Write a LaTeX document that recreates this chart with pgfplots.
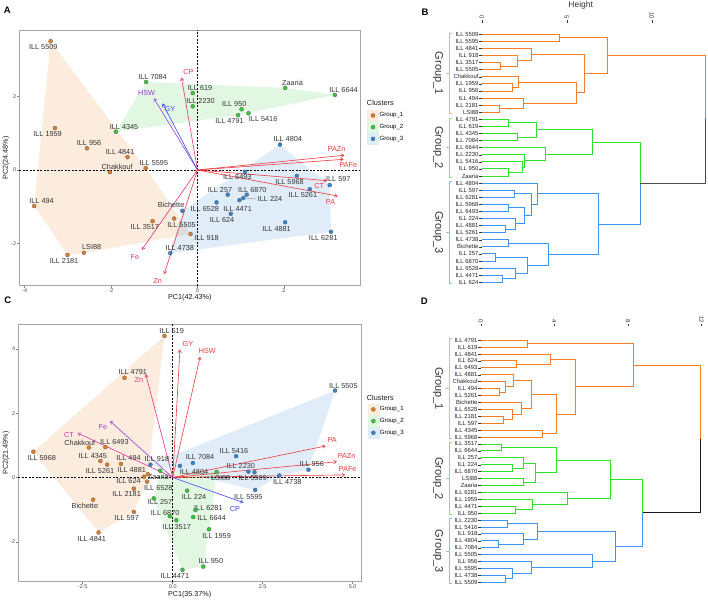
\documentclass[border=0pt]{standalone}
\usepackage{fontspec}
\setmainfont{Liberation Sans}
\usepackage{pgfplots}
\pgfplotsset{compat=1.18}
\usetikzlibrary{arrows.meta}

\newcommand\fsz[1]{\fontsize{#1}{#1}\selectfont}

% cluster colours
\definecolor{gA}{RGB}{230,126,34}
\definecolor{gB}{RGB}{51,204,51}
\definecolor{gC}{RGB}{45,135,215}
% dendrogram branches
\definecolor{dA}{RGB}{245,125,35}
\definecolor{dB}{RGB}{45,225,45}
\definecolor{dC}{RGB}{60,150,240}
\definecolor{bA}{RGB}{248,180,125}
\definecolor{bB}{RGB}{125,230,125}
\definecolor{bC}{RGB}{140,192,240}
% variable arrows
\definecolor{vred}{RGB}{240,55,60}
\definecolor{vpink}{RGB}{228,50,125}
\definecolor{vmag}{RGB}{225,48,160}
\definecolor{vpurp}{RGB}{155,60,225}
\definecolor{vblue}{RGB}{60,70,240}
\definecolor{txt}{RGB}{51,51,51}

\newcommand\lab[3]{\node[font=\fsz{7.3}, text=txt, inner sep=0pt] at (axis cs:#1,#2) {#3};}
\newcommand\vlab[4]{\node[font=\fsz{7.3}, text=#1, inner sep=0pt] at (axis cs:#2,#3) {#4};}
\newcommand\arr[3]{\addplot[#1, line width=0.6pt, -{Straight Barb[length=2.6pt,width=3.4pt]}, forget plot] coordinates {(0,0)(#2,#3)};}
\newcommand\mg[6]{\addplot[#1, forget plot] coordinates {(#2,#3)(#4,#3)(#4,#5)(#6,#5)};}

\pgfplotsset{
  pca/.style={scale only axis, clip=false,
    axis line style={black!35, line width=0.7pt},
    tick align=outside, major tick length=2pt,
    tick style={black!50, line width=0.5pt},
    xtick pos=left, ytick pos=left,
    tick label style={font=\fsz{5.5}, text=black!70},
    xticklabel style={inner sep=1pt}, yticklabel style={inner sep=1pt},
    label style={font=\fsz{7.2}, text=black!90},
    legend cell align=left},
  hull/.style={draw=none, fill=#1, fill opacity=0.15, forget plot},
  zline/.style={black, line width=0.5pt, dash pattern=on 2pt off 1.5pt, forget plot},
  p1/.style={only marks, mark=*, mark size=2pt, mark options={fill=gA, draw=black!65, line width=0.3pt},
    legend image code/.code={\fill[gA!15] (0pt,-5.65pt) rectangle (11.3pt,5.65pt);
      \filldraw[fill=gA, draw=black!65, line width=0.3pt] (5.65pt,0pt) circle (2pt);}},
  p2/.style={only marks, mark=*, mark size=2pt, mark options={fill=gB, draw=black!65, line width=0.3pt},
    legend image code/.code={\fill[gB!15] (0pt,-5.65pt) rectangle (11.3pt,5.65pt);
      \filldraw[fill=gB, draw=black!65, line width=0.3pt] (5.65pt,0pt) circle (2pt);}},
  p3/.style={only marks, mark=*, mark size=2pt, mark options={fill=gC, draw=black!65, line width=0.3pt},
    legend image code/.code={\fill[gC!15] (0pt,-5.65pt) rectangle (11.3pt,5.65pt);
      \filldraw[fill=gC, draw=black!65, line width=0.3pt] (5.65pt,0pt) circle (2pt);}},
  dend/.style={scale only axis, clip=false, y dir=reverse, ymin=0.5, ymax=36.5, xmin=0,
    axis x line=none, axis y line*=left, y axis line style={draw=none},
    ytick={1,...,36}, tick align=outside, major tick length=2.4pt,
    ytick style={black!80, line width=0.4pt},
    yticklabel style={font=\fsz{5.9}, text=black!85, inner sep=0.6pt}},
  oA/.style={dA, line width=0.85pt},
  oB/.style={dB, line width=0.85pt},
  oC/.style={dC, line width=0.85pt},
  oK/.style={black!75, line width=0.85pt},
}

\begin{document}
\begin{tikzpicture}
\useasboundingbox (0pt,0pt) rectangle (708pt,-601pt);

% ---------------- A: PCA biplot ----------------
\begin{axis}[pca, at={(19.3pt,-285.7pt)}, anchor=south west,
  width=341pt, height=255.7pt,
  xmin=-4.125, xmax=3.769, ymin=-3.144, ymax=3.804,
  xtick={-4,-2,0,2}, xticklabels={-4,-2,0,2},
  ytick={-2,0,2}, yticklabels={-2,0,2},
  xlabel={PC1(42.43\%)}, ylabel={PC2(24.48\%)},
  xlabel style={at={(axis description cs:0.5,-0.048)}, anchor=center},
  ylabel style={at={(axis description cs:-0.039,0.5)}, anchor=center},
  legend style={at={(1.0196,0.6895)}, anchor=north west, draw=none, fill=none,
    font=\fsz{6.1}, inner sep=0pt, row sep=0pt, nodes={inner sep=0.7pt}}]
\addplot[hull=gA] coordinates {(-3.40,3.50)(-1.20,0.05)(-0.16,-1.74)(-2.63,-2.25)(-3.01,-2.31)(-3.78,-0.98)};
\addplot[hull=gB] coordinates {(-1.89,1.04)(-1.19,2.39)(2.03,2.23)(3.18,2.04)(0.94,1.49)};
\addplot[hull=gC] coordinates {(1.91,0.69)(3.06,-0.41)(3.09,-1.68)(-0.63,-2.26)(-0.35,-1.11)};
\addplot[zline] coordinates {(0,-3.144)(0,3.804)};
\addplot[zline] coordinates {(-4.125,0)(3.769,0)};
\arr{vpink}{-0.37}{2.51}
\arr{vpurp}{-1.01}{1.95}
\arr{vblue}{-0.81}{1.81}
\arr{vred}{3.40}{0.40}
\arr{vred}{3.38}{0.29}
\arr{vred}{3.00}{-0.29}
\arr{vred}{3.25}{-0.71}
\arr{vpink}{-1.29}{-2.17}
\arr{vred}{-0.77}{-2.83}
\addplot[p1] coordinates {(-3.40,3.50)(-1.20,0.05)(-1.62,0.35)(-0.16,-1.74)(-1.04,-1.39)(-0.54,-1.32)
  (-2.03,-0.06)(-3.30,1.14)(-2.56,0.59)(-3.78,-0.98)(-3.01,-2.31)(-2.63,-2.25)};
\addlegendentry{Group\_1}
\addplot[p2] coordinates {(0.94,1.49)(-0.11,2.09)(-1.89,1.04)(-1.19,2.39)(3.18,2.04)(-0.11,1.73)
  (1.18,1.54)(1.02,1.65)(2.03,2.23)};
\addlegendentry{Group\_2}
\addplot[p3] coordinates {(1.91,0.69)(3.06,-0.41)(3.09,-1.68)(2.30,-0.16)(1.10,-0.05)(1.06,-0.76)
  (2.03,-1.42)(2.60,-0.52)(-0.63,-2.26)(-0.35,-1.11)(0.70,-0.67)(1.14,-0.67)(0.44,-0.88)(0.97,-0.82)(0.77,-1.19)};
\addlegendentry{Group\_3}
\draw[black!60, line width=0.3pt] (axis cs:1.08,-0.76) -- (axis cs:1.36,-0.79);
\lab{-3.57}{3.33}{ILL 5509}
\lab{-1.04}{2.53}{ILL 7084}
\lab{0.06}{2.24}{ILL 619}
\lab{0.07}{1.88}{ILL 2230}
\lab{-3.47}{0.97}{ILL 1959}
\lab{-1.70}{1.18}{ILL 4345}
\lab{-2.51}{0.74}{ILL 956}
\lab{-1.79}{0.48}{ILL 4841}
\lab{-1.86}{0.09}{Chakkouf}
\lab{-1.01}{0.18}{ILL 5595}
\lab{-3.61}{-0.83}{ILL 494}
\lab{-0.61}{-0.96}{Bichette}
\lab{-1.22}{-1.56}{ILL 3517}
\lab{-0.37}{-1.49}{ILL 5505}
\lab{0.21}{-1.85}{ILL 918}
\lab{-0.41}{-2.13}{ILL 4738}
\lab{-3.09}{-2.46}{ILL 2181}
\lab{-2.45}{-2.10}{LSI88}
\lab{2.20}{2.38}{Zaaria}
\lab{3.38}{2.18}{ILL 6644}
\lab{0.85}{1.80}{ILL 950}
\lab{0.74}{1.34}{ILL 4791}
\lab{1.52}{1.39}{ILL 5416}
\lab{2.09}{0.84}{ILL 4804}
\lab{0.92}{-0.20}{ILL 6493}
\lab{2.13}{-0.33}{ILL 5968}
\lab{3.26}{-0.25}{ILL 597}
\lab{2.44}{-0.68}{ILL 5261}
\lab{0.52}{-0.53}{ILL 257}
\lab{1.27}{-0.53}{ILL 6870}
\lab{1.68}{-0.80}{ILL 224}
\lab{0.93}{-1.06}{ILL 4471}
\lab{0.17}{-1.06}{ILL 6528}
\lab{0.57}{-1.36}{ILL 624}
\lab{1.83}{-1.59}{ILL 4881}
\lab{2.91}{-1.84}{ILL 6281}
\vlab{vpink}{-0.21}{2.67}{CP}
\vlab{vpurp}{-1.18}{2.10}{HSW}
\vlab{vblue}{-0.64}{1.65}{GY}
\vlab{vred}{3.22}{0.56}{PAZn}
\vlab{vred}{3.49}{0.14}{PAFe}
\vlab{vred}{2.82}{-0.43}{CT}
\vlab{vred}{3.08}{-0.87}{PA}
\vlab{vpink}{-1.45}{-2.37}{Fe}
\vlab{vred}{-0.92}{-3.01}{Zn}
\node[anchor=west, font=\fsz{7.3}, text=black!90, inner sep=0pt] at (axis description cs:1.019,0.7145) {Clusters};
\end{axis}

% ---------------- C: PCA biplot ----------------
\begin{axis}[pca, at={(18.3pt,-581.7pt)}, anchor=south west,
  width=342.7pt, height=257.4pt,
  xmin=-4.29, xmax=5.23, ymin=-3.24, ymax=4.76,
  xtick={-2.5,0,2.5,5}, xticklabels={-2.5,0.0,2.5,5.0},
  ytick={-2,0,2,4}, yticklabels={-2,0,2,4},
  xlabel={PC1(35.37\%)}, ylabel={PC2(21.49\%)},
  xlabel style={at={(axis description cs:0.5,-0.052)}, anchor=center},
  ylabel style={at={(axis description cs:-0.036,0.5)}, anchor=center},
  legend style={at={(1.0184,0.6929)}, anchor=north west, draw=none, fill=none,
    font=\fsz{6.1}, inner sep=0pt, row sep=0pt, nodes={inner sep=0.7pt}}]
\addplot[hull=gA] coordinates {(-0.23,4.40)(-0.69,0.10)(-0.71,-0.13)(-1.08,-1.07)(-2.06,-1.71)(-3.87,0.80)};
\addplot[hull=gB] coordinates {(-0.35,0.21)(1.22,0.17)(1.01,-1.61)(0.85,-2.77)(0.27,-2.87)(-0.53,-0.65)};
\addplot[hull=gC] coordinates {(-0.62,0.40)(4.51,2.70)(3.77,0.24)(2.96,0.06)(2.29,-0.39)};
\addplot[zline] coordinates {(0,-3.24)(0,4.76)};
\addplot[zline] coordinates {(-4.29,0)(5.23,0)};
\arr{vred}{0.20}{3.98}
\arr{vred}{0.76}{3.75}
\arr{vpink}{-0.75}{3.21}
\arr{vpurp}{-1.74}{1.75}
\arr{vmag}{-2.64}{1.38}
\arr{vred}{4.25}{0.98}
\arr{vred}{4.56}{0.49}
\arr{vred}{4.79}{0.08}
\arr{vblue}{1.96}{-0.78}
\addplot[p1] coordinates {(-0.23,4.40)(-1.34,3.10)(-3.87,0.80)(-2.33,0.93)(-1.87,0.94)(-2.01,0.51)
  (-1.82,0.40)(-1.44,0.42)(-0.69,0.10)(-0.80,0.02)(-0.71,-0.13)(-1.08,-0.35)(-2.21,-0.69)(-1.08,-1.07)(-2.06,-1.71)};
\addlegendentry{Group\_1}
\addplot[p2] coordinates {(-0.35,0.21)(-0.53,-0.65)(-0.08,-1.20)(0.10,-1.33)(0.27,-2.87)(0.40,-0.41)
  (0.63,-1.01)(0.57,-1.23)(1.01,-1.61)(0.85,-2.77)(1.22,0.17)};
\addlegendentry{Group\_2}
\addplot[p3] coordinates {(-0.62,0.40)(4.51,2.70)(1.76,0.66)(0.56,0.45)(0.20,0.36)(2.10,0.18)
  (2.27,0.16)(2.96,0.06)(3.77,0.24)(2.29,-0.39)};
\addlegendentry{Group\_3}
\lab{-0.03}{4.56}{ILL 619}
\lab{-1.11}{3.27}{ILL 4791}
\lab{-2.58}{1.06}{Chakkouf}
\lab{-1.62}{1.09}{ILL 6493}
\lab{-3.64}{0.60}{ILL 5968}
\lab{-2.22}{0.68}{ILL 4345}
\lab{-1.23}{0.60}{ILL 494}
\lab{-0.44}{0.57}{ILL 918}
\lab{-2.02}{0.21}{ILL 5261}
\lab{-1.14}{0.23}{ILL 4881}
\lab{-0.40}{0.01}{Zaaria}
\lab{-1.23}{-0.10}{ILL 624}
\lab{-0.40}{-0.32}{ILL 6528}
\lab{-1.28}{-0.51}{ILL 2181}
\lab{-0.35}{-0.77}{ILL 257}
\lab{-2.44}{-0.89}{Bichette}
\lab{-0.21}{-1.09}{ILL 6870}
\lab{-1.28}{-1.27}{ILL 597}
\lab{0.11}{-1.53}{ILL 3517}
\lab{-2.25}{-1.91}{ILL 4841}
\lab{0.06}{-3.06}{ILL 4471}
\lab{0.76}{0.63}{ILL 7084}
\lab{1.70}{0.82}{ILL 5416}
\lab{0.59}{0.17}{ILL 4804}
\lab{1.89}{0.37}{ILL 2230}
\lab{1.33}{-0.01}{LSI88}
\lab{2.22}{-0.01}{ILL 5509}
\lab{3.18}{-0.15}{ILL 4738}
\lab{3.86}{0.42}{ILL 956}
\lab{2.10}{-0.60}{ILL 5595}
\lab{0.59}{-0.62}{ILL 224}
\lab{0.99}{-0.94}{ILL 6281}
\lab{1.08}{-1.25}{ILL 6644}
\lab{1.22}{-1.81}{ILL 1959}
\lab{1.06}{-2.59}{ILL 950}
\lab{4.74}{2.85}{ILL 5505}
\vlab{vred}{0.42}{4.15}{GY}
\vlab{vred}{0.96}{3.93}{HSW}
\vlab{vpink}{-0.94}{3.03}{Zn}
\vlab{vpurp}{-1.94}{1.58}{Fe}
\vlab{vmag}{-2.88}{1.31}{CT}
\vlab{vred}{4.43}{1.16}{PA}
\vlab{vred}{4.83}{0.67}{PAZn}
\vlab{vred}{4.86}{0.25}{PAFe}
\vlab{vblue}{1.73}{-0.98}{CP}
\node[anchor=west, font=\fsz{7.3}, text=black!90, inner sep=0pt] at (axis description cs:1.0166,0.7148) {Clusters};
\end{axis}

% ---------------- B: dendrogram ----------------
\begin{axis}[dend, at={(481.7pt,-285.8pt)}, anchor=south west,
  width=225.25pt, height=255.1pt, xmax=13.25,
  yticklabels={ILL 5509,ILL 5595,ILL 4841,ILL 918,ILL 3517,ILL 5505,Chakkouf,ILL 1959,ILL 956,ILL 494,ILL 2181,LSI88,
    ILL 4791,ILL 619,ILL 4345,ILL 7084,ILL 6644,ILL 2230,ILL 5416,ILL 950,Zaaria,
    ILL 4804,ILL 597,ILL 6281,ILL 5968,ILL 6493,ILL 224,ILL 4881,ILL 5261,ILL 4738,Bichette,ILL 257,ILL 6870,ILL 6528,ILL 4471,ILL 624}]
\mg{oA}{0}{1}{4.60}{2}{0}
\mg{oA}{0}{5}{1.12}{6}{0}
\mg{oA}{0}{4}{2.10}{5.5}{1.12}
\mg{oA}{0}{3}{2.94}{4.75}{2.10}
\mg{oA}{0}{8}{1.80}{9}{0}
\mg{oA}{0}{7}{2.15}{8.5}{1.80}
\mg{oA}{0}{11}{1.02}{12}{0}
\mg{oA}{0}{10}{2.45}{11.5}{1.02}
\mg{oA}{2.15}{7.75}{5.55}{10.75}{2.45}
\mg{oA}{2.94}{3.875}{6.02}{9.25}{5.55}
\mg{oA}{4.60}{1.5}{7.41}{6.5625}{6.02}
\mg{oB}{0}{13}{1.57}{14}{0}
\mg{oB}{0}{15}{2.10}{16}{0}
\mg{oB}{1.57}{13.5}{3.19}{15.5}{2.10}
\mg{oB}{0}{20}{1.57}{21}{0}
\mg{oB}{0}{19}{2.38}{20.5}{1.57}
\mg{oB}{0}{18}{2.50}{19.75}{2.38}
\mg{oB}{0}{17}{3.72}{18.875}{2.50}
\mg{oB}{3.19}{14.5}{6.51}{17.9375}{3.72}
\mg{oC}{0}{23}{1.92}{24}{0}
\mg{oC}{0}{25}{1.57}{26}{0}
\mg{oC}{0}{28}{1.41}{29}{0}
\mg{oC}{0}{27}{1.98}{28.5}{1.41}
\mg{oC}{1.57}{25.5}{2.49}{27.75}{1.98}
\mg{oC}{1.92}{23.5}{2.90}{26.625}{2.49}
\mg{oC}{0}{22}{3.29}{25.0625}{2.90}
\mg{oC}{0}{30}{1.57}{31}{0}
\mg{oC}{0}{32}{0.80}{33}{0}
\mg{oC}{0}{35}{1.23}{36}{0}
\mg{oC}{0}{34}{1.96}{35.5}{1.23}
\mg{oC}{0.80}{32.5}{2.70}{34.75}{1.96}
\mg{oC}{1.57}{30.5}{3.92}{33.625}{2.70}
\mg{oC}{3.29}{23.53}{6.86}{32.06}{3.92}
\addplot[oB, forget plot] coordinates {(6.51,16.22)(9.31,16.22)(9.31,22.01)};
\addplot[oC, forget plot] coordinates {(9.31,22.01)(9.31,27.80)(6.86,27.80)};
\addplot[oA, forget plot] coordinates {(7.41,4.03)(13.14,4.03)(13.14,13.02)};
\addplot[oK, black!70, forget plot] coordinates {(13.14,13.02)(13.14,22.01)(9.31,22.01)};
% height ticks
\node[rotate=-90, anchor=east, font=\fsz{6}, text=black!80, inner sep=0pt] at (axis cs:0,-1.13) {0};
\node[rotate=-90, anchor=east, font=\fsz{6}, text=black!80, inner sep=0pt] at (axis cs:5,-1.13) {5};
\node[rotate=-90, anchor=east, font=\fsz{6}, text=black!80, inner sep=0pt] at (axis cs:10,-1.13) {10};
\draw[black!80, line width=0.4pt] (axis cs:0,-1.05) -- (axis cs:0,-0.6);
\draw[black!80, line width=0.4pt] (axis cs:5,-1.05) -- (axis cs:5,-0.6);
\draw[black!80, line width=0.4pt] (axis cs:10,-1.05) -- (axis cs:10,-0.6);
% group brackets
\draw[bA, line width=0.6pt] (axis cs:-1.75,0.8) -- (axis cs:-1.92,0.8) -- (axis cs:-1.92,12.2) -- (axis cs:-1.75,12.2);
\draw[bA, line width=0.6pt] (axis cs:-1.92,6.5) -- (axis cs:-2.10,6.5);
\draw[bB, line width=0.6pt] (axis cs:-1.75,12.8) -- (axis cs:-1.92,12.8) -- (axis cs:-1.92,21.2) -- (axis cs:-1.75,21.2);
\draw[bB, line width=0.6pt] (axis cs:-1.92,17) -- (axis cs:-2.10,17);
\draw[bC, line width=0.6pt] (axis cs:-1.75,21.8) -- (axis cs:-1.92,21.8) -- (axis cs:-1.92,36.2) -- (axis cs:-1.75,36.2);
\draw[bC, line width=0.6pt] (axis cs:-1.92,29) -- (axis cs:-2.10,29);
\node[rotate=-90, font=\fsz{11}, text=txt, inner sep=0pt] at (axis cs:-2.57,6.5) {Group\_1};
\node[rotate=-90, font=\fsz{11}, text=txt, inner sep=0pt] at (axis cs:-2.57,17) {Group\_2};
\node[rotate=-90, font=\fsz{11}, text=txt, inner sep=0pt] at (axis cs:-2.57,29) {Group\_3};
\end{axis}

% ---------------- D: dendrogram ----------------
\begin{axis}[dend, at={(480.7pt,-585.8pt)}, anchor=south west,
  width=226.3pt, height=249.1pt, xmax=12.3,
  yticklabels={ILL 4791,ILL 619,ILL 4841,ILL 624,ILL 6493,ILL 4881,Chakkouf,ILL 494,ILL 5261,Bichette,ILL 6528,ILL 2181,ILL 597,ILL 4345,ILL 5968,
    ILL 3517,ILL 6644,ILL 257,ILL 224,ILL 6870,LSI88,Zaaria,ILL 6281,ILL 1959,ILL 4471,ILL 950,
    ILL 2230,ILL 5416,ILL 918,ILL 4804,ILL 7084,ILL 5505,ILL 956,ILL 5595,ILL 4738,ILL 5509}]
\mg{oA}{0}{1}{2.55}{2}{0}
\mg{oA}{0}{4}{1.96}{5}{0}
\mg{oA}{0}{3}{3.77}{4.5}{1.96}
\mg{oA}{0}{8}{1.01}{9}{0}
\mg{oA}{0}{7}{1.32}{8.5}{1.01}
\mg{oA}{0}{6}{1.77}{7.75}{1.32}
\mg{oA}{0}{12}{1.23}{13}{0}
\mg{oA}{0}{11}{1.74}{12.5}{1.23}
\mg{oA}{0}{10}{2.19}{11.75}{1.74}
\mg{oA}{1.77}{6.875}{2.77}{10.875}{2.19}
\mg{oA}{0}{14}{3.35}{15}{0}
\mg{oA}{2.77}{8.875}{4.13}{14.5}{3.35}
\mg{oA}{3.77}{3.75}{5.13}{11.6875}{4.13}
\mg{oA}{2.55}{1.5}{8.29}{7.72}{5.13}
\mg{oB}{0}{16}{1.10}{17}{0}
\mg{oB}{0}{19}{1.72}{20}{0}
\mg{oB}{0}{18}{2.32}{19.5}{1.72}
\mg{oB}{0}{21}{2.32}{22}{0}
\mg{oB}{2.32}{18.75}{2.99}{21.5}{2.32}
\mg{oB}{1.10}{16.5}{4.09}{20.125}{2.99}
\mg{oB}{0}{25}{1.90}{26}{0}
\mg{oB}{0}{24}{2.83}{25.5}{1.90}
\mg{oB}{0}{23}{4.71}{24.75}{2.83}
\mg{oB}{4.09}{18.3125}{7.03}{23.875}{4.71}
\mg{oC}{0}{27}{1.47}{28}{0}
\mg{oC}{0}{30}{0.96}{31}{0}
\mg{oC}{0}{29}{2.32}{30.5}{0.96}
\mg{oC}{1.47}{27.5}{3.10}{29.75}{2.32}
\mg{oC}{0}{35}{1.36}{36}{0}
\mg{oC}{0}{34}{1.74}{35.5}{1.36}
\mg{oC}{0}{33}{2.77}{34.75}{1.74}
\mg{oC}{0}{32}{6.09}{33.875}{2.77}
\mg{oC}{3.10}{28.625}{7.34}{32.94}{6.09}
\addplot[oB, forget plot] coordinates {(7.03,21.09)(8.80,21.09)(8.80,25.94)};
\addplot[oC, forget plot] coordinates {(8.80,25.94)(8.80,30.78)(7.34,30.78)};
\addplot[oA, forget plot] coordinates {(8.29,4.61)(11.96,4.61)(11.96,15.27)};
\addplot[oK, black!90, forget plot] coordinates {(11.96,15.27)(11.96,25.94)(8.80,25.94)};
\node[rotate=-90, anchor=east, font=\fsz{6}, text=black!80, inner sep=0pt] at (axis cs:0,-1.46) {0};
\node[rotate=-90, anchor=east, font=\fsz{6}, text=black!80, inner sep=0pt] at (axis cs:4,-1.46) {4};
\node[rotate=-90, anchor=east, font=\fsz{6}, text=black!80, inner sep=0pt] at (axis cs:8,-1.46) {8};
\node[rotate=-90, anchor=east, font=\fsz{6}, text=black!80, inner sep=0pt] at (axis cs:12,-1.46) {12};
\draw[black!80, line width=0.4pt] (axis cs:0,-1.39) -- (axis cs:0,-1.0);
\draw[black!80, line width=0.4pt] (axis cs:4,-1.39) -- (axis cs:4,-1.0);
\draw[black!80, line width=0.4pt] (axis cs:8,-1.39) -- (axis cs:8,-1.0);
\draw[black!80, line width=0.4pt] (axis cs:12,-1.39) -- (axis cs:12,-1.0);
\draw[bA, line width=0.6pt] (axis cs:-1.56,0.8) -- (axis cs:-1.72,0.8) -- (axis cs:-1.72,15.2) -- (axis cs:-1.56,15.2);
\draw[bA, line width=0.6pt] (axis cs:-1.72,8) -- (axis cs:-1.90,8);
\draw[bB, line width=0.6pt] (axis cs:-1.56,15.8) -- (axis cs:-1.72,15.8) -- (axis cs:-1.72,26.2) -- (axis cs:-1.56,26.2);
\draw[bB, line width=0.6pt] (axis cs:-1.72,21) -- (axis cs:-1.90,21);
\draw[bC, line width=0.6pt] (axis cs:-1.56,26.8) -- (axis cs:-1.72,26.8) -- (axis cs:-1.72,36.2) -- (axis cs:-1.56,36.2);
\draw[bC, line width=0.6pt] (axis cs:-1.72,31.5) -- (axis cs:-1.90,31.5);
\node[rotate=-90, font=\fsz{11}, text=txt, inner sep=0pt] at (axis cs:-2.32,8) {Group\_1};
\node[rotate=-90, font=\fsz{11}, text=txt, inner sep=0pt] at (axis cs:-2.32,21) {Group\_2};
\node[rotate=-90, font=\fsz{11}, text=txt, inner sep=0pt] at (axis cs:-2.32,31.5) {Group\_3};
\end{axis}

% titles and panel letters
\node[font=\fsz{8.5}, text=txt] at (580.7pt,-5pt) {Height};
\node[font=\bfseries\fsz{9.5}] at (7.3pt,-10.7pt) {A};
\node[font=\bfseries\fsz{9.5}] at (425pt,-12.7pt) {B};
\node[font=\bfseries\fsz{9.5}] at (7.7pt,-300pt) {C};
\node[font=\bfseries\fsz{9.5}] at (424.3pt,-301.7pt) {D};
\end{tikzpicture}
\end{document}
